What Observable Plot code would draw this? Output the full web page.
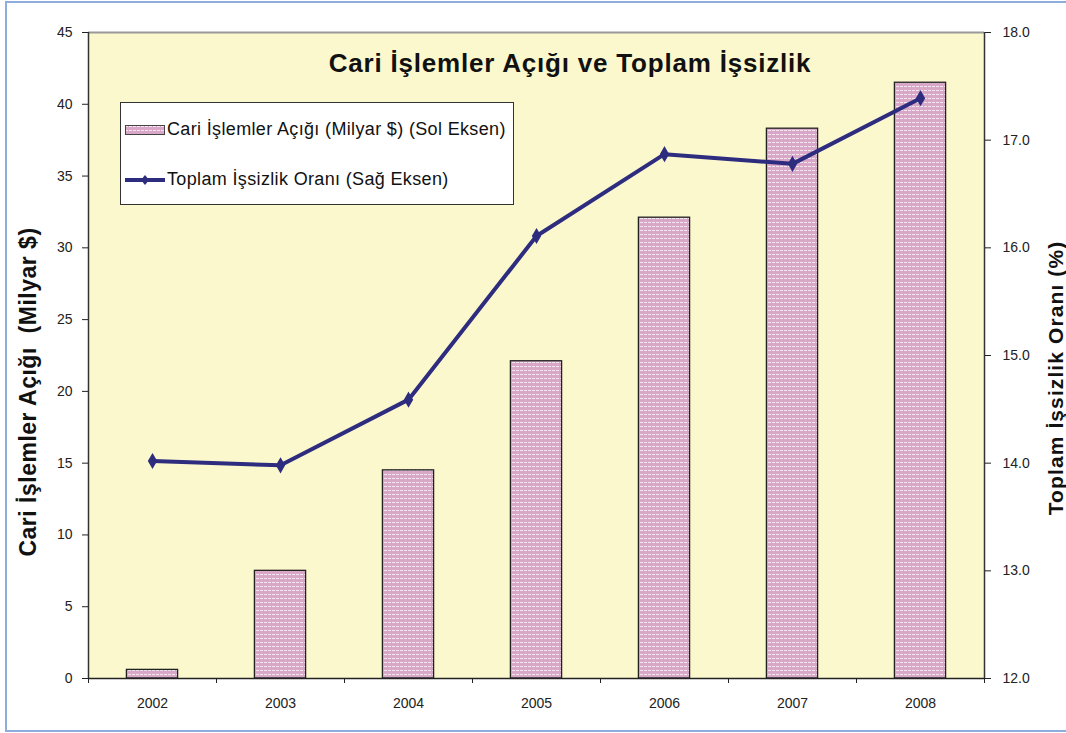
<!DOCTYPE html>
<html>
<head>
<meta charset="utf-8">
<script src="https://cdn.jsdelivr.net/npm/d3@7"></script>
<script src="https://cdn.jsdelivr.net/npm/@observablehq/plot@0.6"></script>
<style>
  html, body { margin: 0; padding: 0; background: #fff; }
  body { font-family: "Liberation Sans", Arial, sans-serif; }
  #wrap { position: relative; width: 1066px; height: 733px; overflow: hidden; }
  #border { position: absolute; left: 5px; top: 1px; width: 1080px; height: 727px; border: 2px solid #8FADDC; pointer-events: none; }
  #title { position: absolute; left: 0; width: 1140px; top: 48px; text-align: center; font-weight: bold; font-size: 26px; letter-spacing: 0.8px; color: #111; }
  #legend { position: absolute; left: 120px; top: 102px; width: 392px; height: 101px; background: #fff; border: 1.5px solid #333; font-size: 18px; letter-spacing: 0.35px; color: #111; }
  .lrow { position: absolute; left: 4px; display: flex; align-items: center; white-space: pre; }
  .ytitle { position: absolute; font-weight: bold; color: #111; white-space: pre; transform: translate(-50%, -50%) rotate(-90deg); }
</style>
</head>
<body>
<div id="wrap">
  <div id="chart"></div>
  <div id="title"></div>
  <div id="legend"></div>
  <div id="ylabL" class="ytitle" style="left:28px; top:392px; font-size:23px; letter-spacing:0.5px;"></div>
  <div id="ylabR" class="ytitle" style="left:1056px; top:378px; font-size:21px; letter-spacing:1.1px;"></div>
  <div id="border"></div>
</div>
<script>
const years = [2002, 2003, 2004, 2005, 2006, 2007, 2008];
const deficit = [0.6, 7.5, 14.5, 22.1, 32.1, 38.3, 41.5];
const unemployment = [14.02, 13.98, 14.59, 16.11, 16.87, 16.78, 17.39];
const leftTicks = [0, 5, 10, 15, 20, 25, 30, 35, 40, 45];
const rightTicks = [12.0, 13.0, 14.0, 15.0, 16.0, 17.0, 18.0];
const titleText = "Cari İşlemler Açığı ve Toplam İşsizlik";
const seriesBarName = "Cari İşlemler Açığı (Milyar $) (Sol Eksen)";
const seriesLineName = "Toplam İşsizlik Oranı (Sağ Eksen)";
const leftAxisTitle = "Cari İşlemler Açığı  (Milyar $)";
const rightAxisTitle = "Toplam İşsizlik Oranı (%)";

const rMin = 12, rMax = 18, lMax = 45;
const toLeft = v => (v - rMin) * lMax / (rMax - rMin);
const fromLeft = v => v * (rMax - rMin) / lMax + rMin;

const data = years.map((y, i) => ({year: y, deficit: deficit[i], u: unemployment[i]}));
const bounds = [years[0] - 0.5, ...years.map(y => y + 0.5)];

const navy = "#2E2C7E";
const chart = Plot.plot({
  width: 1066,
  height: 733,
  marginLeft: 88,
  marginRight: 82,
  marginTop: 32,
  marginBottom: 55,
  style: {fontFamily: "'Liberation Sans', Arial, sans-serif", fontSize: "14px", color: "#222", background: "transparent"},
  x: {type: "linear", domain: [bounds[0], bounds[bounds.length - 1]]},
  y: {domain: [0, lMax]},
  marks: [
    Plot.frame({fill: "#FCF8CE", stroke: null}),
    Plot.ruleY([lMax], {stroke: "#999", strokeWidth: 2}),
    Plot.rectY(data, {x1: d => d.year - 0.2, x2: d => d.year + 0.2, y1: 0, y2: "deficit", fill: "url(#stripes)", stroke: "#222", strokeWidth: 1.3}),
    Plot.line(data, {x: "year", y: d => toLeft(d.u), stroke: navy, strokeWidth: 4}),
    Plot.dot(data, {x: "year", y: d => toLeft(d.u), symbol: "diamond", r: 4, fill: navy, stroke: navy}),
    Plot.ruleX([bounds[0]], {stroke: "#333", strokeWidth: 1.5}),
    Plot.ruleX([bounds[bounds.length - 1]], {stroke: "#333", strokeWidth: 1.5}),
    Plot.ruleY([0], {stroke: "#222", strokeWidth: 1.5}),
    Plot.axisY({anchor: "left", ticks: leftTicks, tickSize: 6, tickPadding: 10, label: null, tickFormat: d => String(d)}),
    Plot.axisY({anchor: "right", ticks: rightTicks.map(toLeft), tickSize: 6, tickPadding: 12, label: null, tickFormat: d => fromLeft(d).toFixed(1)}),
    Plot.axisX({anchor: "bottom", ticks: years, tickSize: 0, tickPadding: 20, label: null, tickFormat: d => String(d)}),
    Plot.axisX({anchor: "bottom", ticks: bounds, tickSize: 5, label: null, tickFormat: () => ""})
  ]
});

// stripe pattern for the bars
const ns = "http://www.w3.org/2000/svg";
const defs = document.createElementNS(ns, "defs");
defs.innerHTML = `<pattern id="stripes" patternUnits="userSpaceOnUse" width="4" height="4">
  <rect width="4" height="4" fill="#D9A8C9"/>
  <rect y="2" width="3" height="1" fill="#F3E6EE"/>
</pattern>`;
chart.insertBefore(defs, chart.firstChild);
document.getElementById("chart").appendChild(chart);

document.getElementById("title").textContent = titleText;
document.getElementById("ylabL").textContent = leftAxisTitle;
document.getElementById("ylabR").textContent = rightAxisTitle;

const legend = document.getElementById("legend");
legend.innerHTML = `
  <div class="lrow" style="top:16px;">
    <svg width="41" height="12" style="margin-right:1px"><defs><pattern id="stripes2" patternUnits="userSpaceOnUse" width="4" height="4"><rect width="4" height="4" fill="#D9A8C9"/><rect y="2" width="3" height="1" fill="#F3E6EE"/></pattern></defs><rect x="0.5" y="1.5" width="39" height="9" fill="url(#stripes2)" stroke="#444" stroke-width="1"/></svg>
    <span></span>
  </div>
  <div class="lrow" style="top:66px;">
    <svg width="41" height="14" style="margin-right:1px"><line x1="0" x2="40" y1="7" y2="7" stroke="${navy}" stroke-width="4"/><path d="M20,2 L24,7 L20,12 L16,7 Z" fill="${navy}"/></svg>
    <span></span>
  </div>`;
const spans = legend.querySelectorAll("span");
spans[0].textContent = seriesBarName;
spans[1].textContent = seriesLineName;
</script>
</body>
</html>
